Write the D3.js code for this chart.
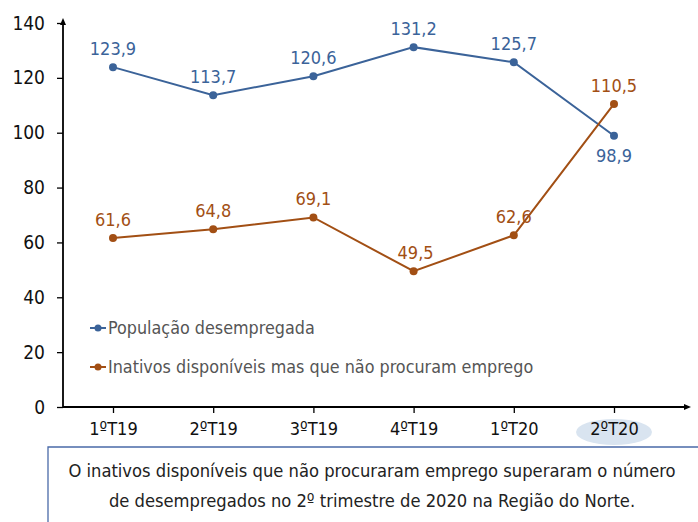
<!DOCTYPE html>
<html><head><meta charset="utf-8">
<script src="https://cdn.jsdelivr.net/npm/d3@7"></script>
<style>body{margin:0;background:#fff}svg{display:block}</style>
</head><body><svg id="c" width="698" height="522"></svg>
<script>
const categories = ["1ºT19","2ºT19","3ºT19","4ºT19","1ºT20","2ºT20"];
const desempregados = [123.9,113.7,120.6,131.2,125.7,98.9];
const inativos = [61.6,64.8,69.1,49.5,62.6,110.5];
const seriesNames = ["População desempregada","Inativos disponíveis mas que não procuram emprego"];
const yTicks = [0,20,40,60,80,100,120,140];
const caption = ["O inativos disponíveis que não procuraram emprego superaram o número","de desempregados no 2º trimestre de 2020 na Região do Norte."];

const FONT = "'DejaVu Sans Condensed','Roboto',sans-serif";
const blue = "#3b6399", orange = "#a24f14";
const svg = d3.select("#c");
const x = d3.scalePoint().domain(categories).range([113,614]);
const y = d3.scaleLinear().domain([0,140]).range([407,23]);

svg.append("ellipse").attr("cx", x("2ºT20")).attr("cy", 432).attr("rx", 38).attr("ry", 13).attr("fill", "#d9e4f0");

const yAxis = svg.append("g").attr("transform","translate(63,0)")
  .call(d3.axisLeft(y).tickValues(yTicks).tickSize(6).tickFormat(d3.format("d")));
yAxis.select(".domain").attr("d","M0,407V21");
const xAxis = svg.append("g").attr("transform","translate(0,407)")
  .call(d3.axisBottom(x).tickSize(6).tickPadding(9));
xAxis.select(".domain").attr("d","M63,0H688");
svg.selectAll(".tick line").attr("stroke","#000").attr("stroke-width",1.3);
svg.selectAll(".domain").attr("stroke","#000").attr("stroke-width",1.8);
yAxis.selectAll("text").attr("font-family",FONT).attr("font-size",19).attr("fill","#111").attr("x",-18);
xAxis.selectAll("text").attr("font-family",FONT).attr("font-size",18).attr("fill","#111");
svg.append("path").attr("d","M60,25 L63,18 L66,25 Z").attr("fill","#000");
svg.append("path").attr("d","M684,404 L691,407 L684,410 Z").attr("fill","#000");

const line = d3.line().x((d,i)=>x(categories[i])).y(d=>y(d));
function drawSeries(vals,color,labelBelow){
  svg.append("path").datum(vals).attr("d",line).attr("fill","none").attr("stroke",color).attr("stroke-width",2);
  svg.selectAll(null).data(vals).enter().append("circle")
    .attr("cx",(d,i)=>x(categories[i])).attr("cy",d=>y(d)).attr("r",4).attr("fill",color);
  svg.selectAll(null).data(vals).enter().append("text")
    .attr("x",(d,i)=>x(categories[i])+(i===3&&color===orange?2:0))
    .attr("y",(d,i)=>labelBelow(i)? y(d)+26 : y(d)-12)
    .attr("text-anchor","middle").attr("font-family",FONT).attr("font-size",18).attr("fill",color)
    .text(d=>d3.format(".1f")(d).replace(".",","));
}
drawSeries(desempregados,blue,i=>i===5);
drawSeries(inativos,orange,i=>false);

const legY = [328,367];
[blue,orange].forEach((c,i)=>{
  svg.append("line").attr("x1",90).attr("x2",106).attr("y1",legY[i]).attr("y2",legY[i]).attr("stroke",c).attr("stroke-width",2);
  svg.append("circle").attr("cx",98).attr("cy",legY[i]).attr("r",3.5).attr("fill",c);
  svg.append("text").attr("x",108).attr("y",legY[i]+6).attr("font-family",FONT).attr("font-size",17.8).attr("fill","#555").text(seriesNames[i]);
});

svg.append("path").attr("d","M48,522V447H698").attr("fill","none").attr("stroke","#4a6aa8").attr("stroke-width",1.3);
caption.forEach((t,i)=>{
  svg.append("text").attr("x",372).attr("y",477+i*30).attr("text-anchor","middle")
    .attr("font-family",FONT).attr("font-size",18.2).attr("fill","#222").text(t);
});
</script></body></html>
